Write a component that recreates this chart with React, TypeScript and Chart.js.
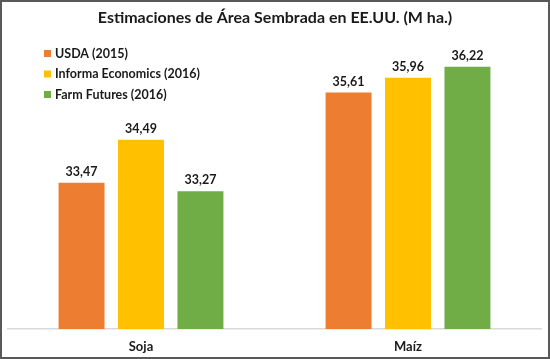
import React, { useEffect, useRef } from "react";
import { Chart, registerables } from "chart.js";

Chart.register(...registerables);

const TITLE = "Estimaciones de Área Sembrada en EE.UU. (M ha.)";
const categories = ["Soja", "Maíz"];
const seriesNames = ["USDA (2015)", "Informa Economics (2016)", "Farm Futures (2016)"];
const usda = [33.47, 35.61];
const informa = [34.49, 35.96];
const farmFutures = [33.27, 36.22];
const seriesColors = ["#ED7D31", "#FFC000", "#70AD47"];
const yMin = 30;
const yMax = 37;

const FONT = "Lato, 'Open Sans', sans-serif";

const decorPlugin = {
  id: "decor",
  afterDraw(chart: any) {
    const ctx = chart.ctx;
    ctx.save();
    // border
    ctx.strokeStyle = "#595959";
    ctx.lineWidth = 2;
    ctx.strokeRect(1, 1, chart.width - 2, chart.height - 2);
    // title
    ctx.fillStyle = "#1a1a1a";
    ctx.font = `bold 16px ${FONT}`;
    ctx.textAlign = "center";
    ctx.textBaseline = "middle";
    ctx.fillText(TITLE, chart.width / 2, 18);
    // legend
    ctx.font = `bold 12.5px ${FONT}`;
    ctx.textAlign = "left";
    chart.data.datasets.forEach((ds: any, i: number) => {
      const cy = 53.5 + i * 20.5;
      ctx.fillStyle = ds.backgroundColor;
      ctx.fillRect(44, cy - 3.5, 7, 7);
      ctx.fillStyle = "#1a1a1a";
      ctx.fillText(ds.label, 55, cy);
    });
    ctx.restore();
  },
  afterDatasetsDraw(chart: any) {
    const ctx = chart.ctx;
    ctx.save();
    ctx.font = `bold 12.5px ${FONT}`;
    ctx.fillStyle = "#1a1a1a";
    ctx.textAlign = "center";
    ctx.textBaseline = "middle";
    chart.data.datasets.forEach((ds: any, di: number) => {
      const meta = chart.getDatasetMeta(di);
      meta.data.forEach((el: any, idx: number) => {
        const v = ds.data[idx];
        ctx.fillText(v.toFixed(2).replace(".", ","), el.x, el.y - 11);
      });
    });
    ctx.restore();
  },
};

export default function App() {
  const ref = useRef<HTMLCanvasElement>(null);
  useEffect(() => {
    document.body.style.margin = "0";
    const chart = new Chart(ref.current!, {
      type: "bar",
      data: {
        labels: categories,
        datasets: [usda, informa, farmFutures].map((d, i) => ({
          label: seriesNames[i],
          data: d,
          backgroundColor: seriesColors[i],
          categoryPercentage: 0.668,
          barPercentage: 0.773,
        })),
      },
      options: {
        animation: false,
        responsive: false,
        layout: { padding: { left: 7.5, right: 8.5, top: 34, bottom: 5.6 } },
        plugins: {
          legend: { display: false },
          title: { display: false },
          tooltip: { enabled: false },
        },
        scales: {
          x: {
            grid: { display: false, drawTicks: false },
            border: { color: "#D9D9D9", width: 1.5 },
            afterFit: (scale: any) => {
              scale.height = 24.4;
            },
            ticks: {
              padding: 10,
              color: "#1a1a1a",
              font: { family: FONT, size: 13, weight: "bold" },
            },
          },
          y: {
            display: false,
            min: yMin,
            max: yMax,
          },
        },
      },
      plugins: [decorPlugin],
    });
    return () => chart.destroy();
  }, []);
  return (
    <div style={{ width: 550, height: 359, background: "#fff" }}>
      <canvas ref={ref} width={550} height={359} style={{ display: "block" }} />
    </div>
  );
}
